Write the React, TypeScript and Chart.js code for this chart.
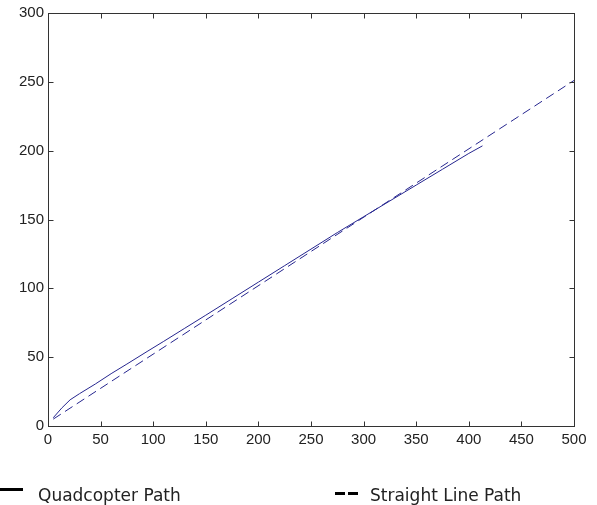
import React, { useEffect, useRef } from "react";
import { Chart, registerables } from "chart.js";

Chart.register(...registerables);

// Quadcopter path (solid)
const quadX = [5, 13, 21, 30, 45, 60, 75, 95, 110, 130, 150, 175, 200, 225, 250, 275, 300, 325, 350, 375, 400, 413];
const quadY = [6, 13, 19, 23.5, 30.5, 38, 45, 54.5, 61.5, 71, 80.5, 92.5, 104.5, 116.5, 128.5, 140.5, 152, 163.5, 175, 186.5, 198, 203.5];

// Straight line path (dashed)
const lineX = [5, 500];
const lineY = [5, 251];

const xTicks = [0, 50, 100, 150, 200, 250, 300, 350, 400, 450, 500];
const yTicks = [0, 50, 100, 150, 200, 250, 300];

const legendLabels = ["Quadcopter Path", "Straight Line Path"];

const LINE_COLOR = "#26268f";

export default function App() {
  const ref = useRef<HTMLCanvasElement | null>(null);

  useEffect(() => {
    if (!ref.current) return;

    const framePlugin = {
      id: "frameAndLegend",
      afterDraw(chart: any) {
        const ctx = chart.ctx as CanvasRenderingContext2D;
        const { left, right, top, bottom } = chart.chartArea;
        const xs = chart.scales.x;
        const ys = chart.scales.y;
        ctx.save();
        ctx.strokeStyle = "#333";
        ctx.lineWidth = 1;
        const l = Math.round(left) + 0.5;
        const r = Math.round(right) + 0.5;
        const t = Math.round(top) + 0.5;
        const b = Math.round(bottom) + 0.5;
        ctx.strokeRect(l, t, r - l, b - t);
        const tl = 5;
        ctx.beginPath();
        xTicks.forEach((v) => {
          const px = Math.round(xs.getPixelForValue(v)) + 0.5;
          ctx.moveTo(px, b);
          ctx.lineTo(px, b - tl);
          ctx.moveTo(px, t);
          ctx.lineTo(px, t + tl);
        });
        yTicks.forEach((v) => {
          const py = Math.round(ys.getPixelForValue(v)) + 0.5;
          ctx.moveTo(l, py);
          ctx.lineTo(l + tl, py);
          ctx.moveTo(r, py);
          ctx.lineTo(r - tl, py);
        });
        ctx.stroke();

        // Legend
        ctx.strokeStyle = "#000";
        ctx.lineWidth = 3;
        ctx.beginPath();
        ctx.moveTo(0, 489.5);
        ctx.lineTo(23, 489.5);
        ctx.stroke();
        ctx.beginPath();
        ctx.moveTo(335, 493.5);
        ctx.lineTo(345, 493.5);
        ctx.moveTo(348, 493.5);
        ctx.lineTo(358, 493.5);
        ctx.stroke();

        ctx.fillStyle = "#222";
        ctx.font = "17px 'DejaVu Sans'";
        ctx.textBaseline = "alphabetic";
        ctx.textAlign = "left";
        ctx.fillText(legendLabels[0], 38, 501);
        ctx.fillText(legendLabels[1], 370, 501);
        ctx.restore();
      },
    };

    const chart = new Chart(ref.current, {
      type: "scatter",
      data: {
        datasets: [
          {
            label: legendLabels[0],
            data: quadX.map((x, i) => ({ x, y: quadY[i] })),
            showLine: true,
            borderColor: LINE_COLOR,
            borderWidth: 1,
            pointRadius: 0,
            tension: 0,
          },
          {
            label: legendLabels[1],
            data: lineX.map((x, i) => ({ x, y: lineY[i] })),
            showLine: true,
            borderColor: LINE_COLOR,
            borderWidth: 1,
            borderDash: [9, 5],
            pointRadius: 0,
          },
        ],
      },
      options: {
        animation: false,
        responsive: false,
        devicePixelRatio: 1,
        layout: { padding: { top: 11, right: 23, bottom: 59, left: 0 } },
        plugins: {
          legend: { display: false },
          tooltip: { enabled: false },
        },
        scales: {
          x: {
            type: "linear",
            min: 0,
            max: 500,
            afterBuildTicks: (s: any) => {
              s.ticks = xTicks.map((v) => ({ value: v }));
            },
            afterFit: (s: any) => {
              s.height = 20;
            },
            grid: { display: false, drawTicks: false },
            border: { display: false },
            ticks: {
              padding: 5,
              color: "#222",
              font: { family: "'Liberation Sans'", size: 15 },
              maxRotation: 0,
              autoSkip: false,
            },
          },
          y: {
            type: "linear",
            min: 0,
            max: 300,
            afterBuildTicks: (s: any) => {
              s.ticks = yTicks.map((v) => ({ value: v }));
            },
            afterFit: (s: any) => {
              s.width = 48;
            },
            grid: { display: false, drawTicks: false },
            border: { display: false },
            ticks: {
              padding: 4,
              color: "#222",
              font: { family: "'Liberation Sans'", size: 15 },
              autoSkip: false,
            },
          },
        },
      },
      plugins: [framePlugin],
    } as any);

    return () => chart.destroy();
  }, []);

  return (
    <div style={{ position: "absolute", left: 0, top: 0, width: 597, height: 505, background: "#fff" }}>
      <canvas ref={ref} width={597} height={505} />
    </div>
  );
}
